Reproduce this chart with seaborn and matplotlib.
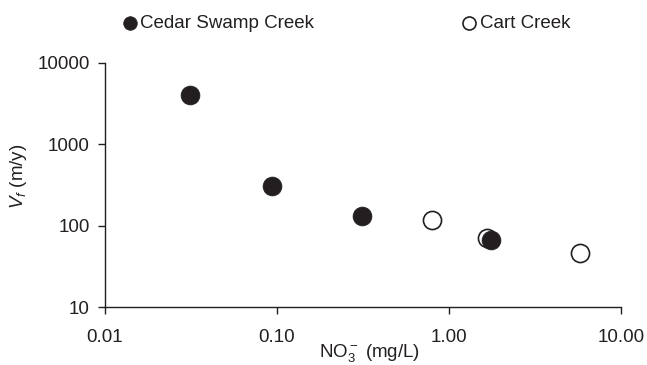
import matplotlib
matplotlib.use("Agg")
import matplotlib.pyplot as plt
import seaborn as sns
import pandas as pd

# ---- data ----
cedar_no3 = [0.031, 0.093, 0.31, 1.75]
cedar_vf = [4000, 310, 132, 66]
cart_no3 = [0.80, 1.67, 5.8]
cart_vf = [118, 71, 46]

x_ticks = [0.01, 0.1, 1, 10]
x_ticklabels = ["0.01", "0.10", "1.00", "10.00"]
y_ticks = [10, 100, 1000, 10000]
y_ticklabels = ["10", "100", "1000", "10000"]

sns.set_theme(style="white")
plt.rcParams["font.family"] = ["Liberation Sans", "DejaVu Sans"]
plt.rcParams["mathtext.fontset"] = "custom"
plt.rcParams["mathtext.rm"] = "Liberation Sans"
plt.rcParams["mathtext.it"] = "Liberation Sans:italic"

ink = "#231f20"
fs = 13.5

cedar = pd.DataFrame({"no3": cedar_no3, "vf": cedar_vf})
cart = pd.DataFrame({"no3": cart_no3, "vf": cart_vf})

fig = plt.figure(figsize=(6.47, 3.65), dpi=100)
ax = fig.add_axes([105 / 647, 1 - 307 / 365, (621 - 105) / 647, (307 - 62.7) / 365])

sns.scatterplot(data=cart, x="no3", y="vf", ax=ax, s=170, marker="o",
                facecolor="white", edgecolor=ink, linewidth=1.2,
                label="Cart Creek", zorder=3)
sns.scatterplot(data=cedar, x="no3", y="vf", ax=ax, s=185, marker="o",
                color=ink, edgecolor=ink, linewidth=0.5,
                label="Cedar Swamp Creek", zorder=4)

ax.set_xscale("log")
ax.set_yscale("log")
ax.set_xlim(0.01, 10)
ax.set_ylim(10, 10000)
ax.set_xticks(x_ticks)
ax.set_xticklabels(x_ticklabels)
ax.set_yticks(y_ticks)
ax.set_yticklabels(y_ticklabels)
ax.minorticks_off()

for side in ["top", "right"]:
    ax.spines[side].set_visible(False)
for side in ["left", "bottom"]:
    ax.spines[side].set_color(ink)
    ax.spines[side].set_linewidth(1.0)

ax.tick_params(axis="both", which="major", direction="out", length=5,
               width=1.0, color=ink, labelcolor=ink, labelsize=fs,
               bottom=True, left=True)
ax.tick_params(axis="x", pad=11)
ax.tick_params(axis="y", pad=6)

ax.set_xlabel(r"NO$_3^-$ (mg/L)", fontsize=fs, color=ink)
ax.set_ylabel(r"$V_f$ (m/y)", fontsize=fs, color=ink)
ax.xaxis.set_label_coords(0.512, -0.145)
ax.yaxis.set_label_coords(-0.147, 0.536)

handles, labels = ax.get_legend_handles_labels()
ax.get_legend().remove()
order = [labels.index("Cedar Swamp Creek"), labels.index("Cart Creek")]
fig.legend([handles[i] for i in order], [labels[i] for i in order],
           loc="center", bbox_to_anchor=(0.535, 0.935), ncol=2,
           frameon=False, fontsize=fs, markerscale=0.72,
           handlelength=0.8, handletextpad=0.15, columnspacing=7.9,
           labelcolor=ink)

fig.savefig("out.png", dpi=100)
